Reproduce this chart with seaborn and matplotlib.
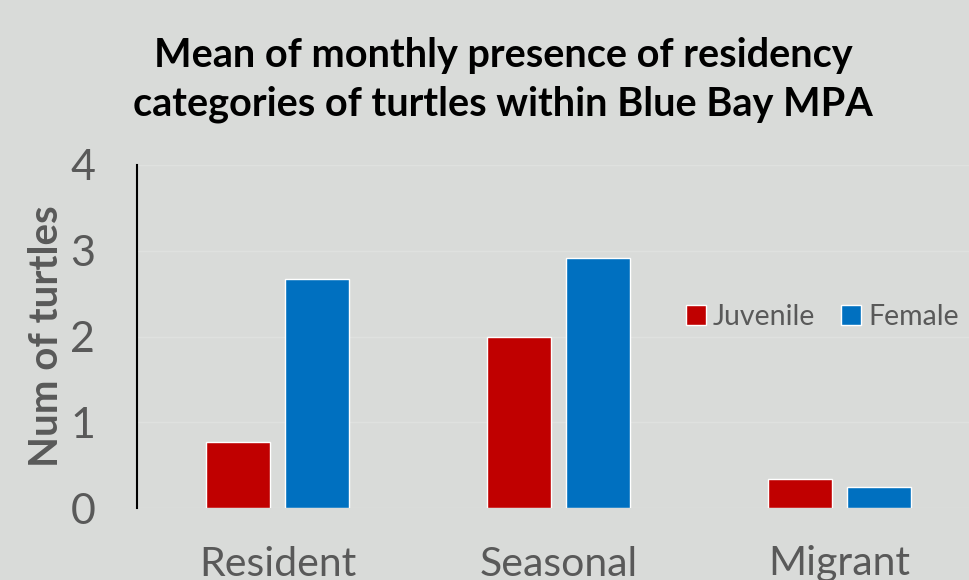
import matplotlib
matplotlib.use("Agg")
import matplotlib.pyplot as plt
import seaborn as sns
import pandas as pd

categories = ["Resident", "Seasonal", "Migrant"]
groups = ["Juvenile", "Female"]
juvenile = [0.77, 2.0, 0.34]
female = [2.67, 2.91, 0.245]
yticks = [0, 1, 2, 3, 4]

df = pd.DataFrame({
    "Category": categories * 2,
    "Group": [groups[0]] * 3 + [groups[1]] * 3,
    "Value": juvenile + female,
})

sns.set_theme(style="white")
plt.rcParams["font.family"] = ["Lato", "DejaVu Sans"]

BG = "#d9dbd9"
GREY = "#595959"

fig = plt.figure(figsize=(9.69, 5.8), dpi=100, facecolor=BG)
ax = fig.add_axes([137 / 969, 72 / 580, 832 / 969, 343 / 580])
ax.set_facecolor(BG)

sns.barplot(data=df, x="Category", y="Value", hue="Group", order=categories,
            hue_order=groups, palette={"Juvenile": "#C00000", "Female": "#0070C0"},
            width=0.5625, gap=0.19, errorbar=None, ax=ax, saturation=1)

ax.set_ylim(0, 4)
ax.set_xlim(-0.5, 2.46)
ax.set_yticks(yticks)
ax.yaxis.grid(True, color="#dfe1df", linewidth=1)
ax.set_axisbelow(True)
for s in ["top", "right", "bottom"]:
    ax.spines[s].set_visible(False)
ax.spines["left"].set_color("black")
ax.spines["left"].set_linewidth(1.5)

ax.tick_params(axis="y", length=0, pad=30, labelsize=31, labelcolor=GREY)
ax.tick_params(axis="x", length=0, pad=27, labelsize=29.5, labelcolor=GREY)
ax.set_xlabel("")
ax.set_ylabel("Num of turtles", fontsize=29, fontweight="bold", color=GREY, labelpad=4)

fig.text(503 / 969, 1 - 80 / 580,
         "Mean of monthly presence of residency\ncategories of turtles within Blue Bay MPA",
         ha="center", va="center", fontsize=28.5, fontweight="bold", color="black",
         linespacing=1.4)

ax.legend(loc="center left", bbox_to_anchor=(686 / 969, 1 - 317 / 580),
          bbox_transform=fig.transFigure, frameon=False, fontsize=20.5,
          handlelength=0.7, handleheight=0.7, handletextpad=0.25,
          columnspacing=0.9, ncol=2, labelcolor=GREY, borderaxespad=0, borderpad=0)

fig.savefig("out.png", dpi=100, facecolor=BG)
